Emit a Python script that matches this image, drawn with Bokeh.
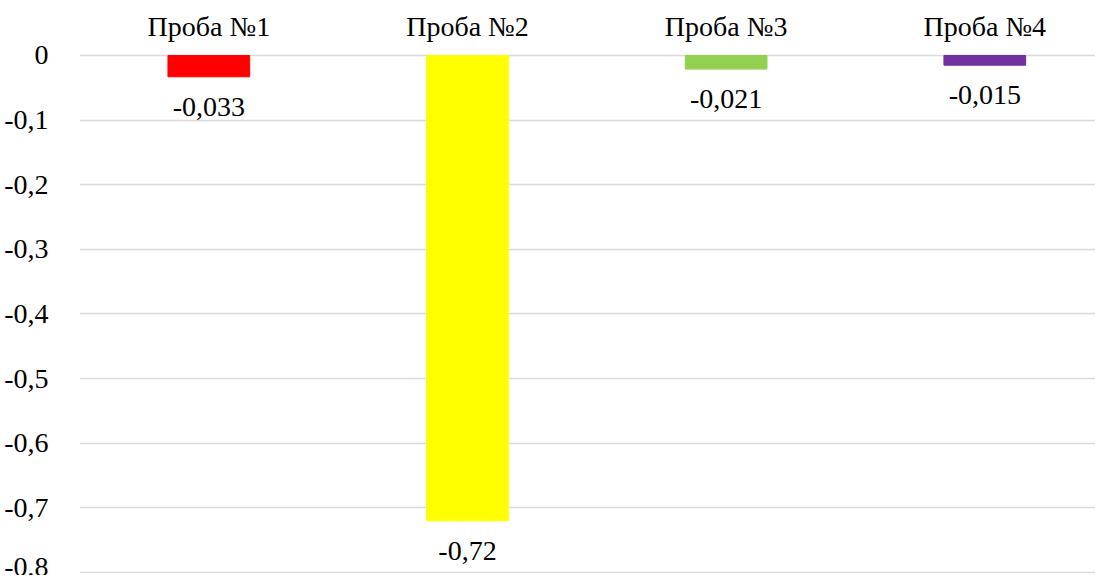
from bokeh.plotting import figure
from bokeh.models import ColumnDataSource, Range1d, LinearAxis, FixedTicker
from bokeh.core.properties import value
from bokeh.embed import file_html
from bokeh.resources import INLINE

categories = ["Проба №1", "Проба №2", "Проба №3", "Проба №4"]
values = [-0.033, -0.72, -0.021, -0.015]
colors = ["#FF0000", "#FFFF00", "#92D050", "#7030A0"]
y_ticks = [0, -0.1, -0.2, -0.3, -0.4, -0.5, -0.6, -0.7, -0.8]
y_tick_labels = ["0", "-0,1", "-0,2", "-0,3", "-0,4", "-0,5", "-0,6", "-0,7", "-0,8"]
value_labels = ["-0,033", "-0,72", "-0,021", "-0,015"]

FONT = "Liberation Serif"
FS = "28px"

xs = list(range(len(categories)))
src = ColumnDataSource(dict(x=xs, top=[0] * len(values), bottom=values,
                            color=colors, label=value_labels))

p = figure(width=1095, height=575, output_backend="svg", toolbar_location=None,
           x_range=Range1d(-0.5, 3.428), y_range=Range1d(-0.80155, 0.00464),
           x_axis_location=None, y_axis_location="left",
           min_border_left=79, min_border_right=0, min_border_top=52,
           min_border_bottom=2)
p.outline_line_color = None
p.background_fill_color = "white"
p.border_fill_color = "white"

p.vbar(x="x", top="top", bottom="bottom", width=0.316, color="color", source=src)
p.text(x="x", y="bottom", text="label", source=src, y_offset=30,
       text_align="center", text_baseline="middle",
       text_font=value(FONT), text_font_size=FS, text_color="#000000")

# y axis
yax = p.yaxis[0]
yax.ticker = FixedTicker(ticks=y_ticks)
yax.major_label_overrides = {t: l for t, l in zip(y_ticks, y_tick_labels)}
yax.axis_line_color = None
yax.major_tick_line_color = None
yax.minor_tick_line_color = None
yax.major_label_standoff = 25
yax.major_label_text_font = FONT
yax.major_label_text_font_size = FS
yax.major_label_text_color = "#000000"

# top category axis
xax = LinearAxis(ticker=FixedTicker(ticks=xs),
                 major_label_overrides={i: c for i, c in zip(xs, categories)})
xax.axis_line_color = None
xax.major_tick_line_color = None
xax.minor_tick_line_color = None
xax.major_label_standoff = 5
xax.major_label_text_font = FONT
xax.major_label_text_font_size = FS
xax.major_label_text_color = "#000000"
p.add_layout(xax, "above")

p.xgrid.visible = False
p.ygrid.ticker = FixedTicker(ticks=y_ticks)
p.ygrid.grid_line_color = "#D9D9D9"
p.ygrid.grid_line_width = 1.5

open("out.html", "w").write(file_html(p, INLINE))
